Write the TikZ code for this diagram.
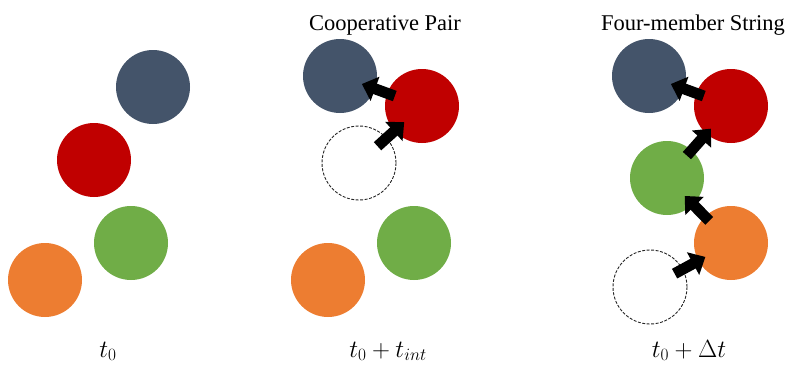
\documentclass[tikz,border=0pt]{standalone}
\usepackage{fontspec}
\setmainfont{Liberation Serif}
\usetikzlibrary{arrows.meta,calc}
\definecolor{cblue}{HTML}{44546A}
\definecolor{cred}{HTML}{C00000}
\definecolor{cgreen}{HTML}{70AD47}
\definecolor{corange}{HTML}{ED7D31}
\begin{document}
\begin{tikzpicture}[x=1pt,y=-1pt,
  ball/.style={circle,minimum size=74pt,inner sep=0pt,fill=#1},
  ghost/.style={circle,minimum size=74pt,inner sep=0pt,draw=black!85,dash pattern=on 3pt off 1.5pt,line width=0.9pt},
  push/.style={line width=11pt,-{Triangle[width=25pt,length=14pt]}},
  ttl/.style={font=\fontsize{22.5}{26}\selectfont,anchor=base},
  tlabel/.style={font=\fontsize{24}{28}\selectfont,anchor=base}]
\path[use as bounding box] (0,0) rectangle (790,368);
% panel 1
\node[ball=cblue] (b1) at (153,87) {};
\node[ball=cred] (r1) at (94,160) {};
\node[ball=cgreen] (g1) at (131,243) {};
\node[ball=corange] (o1) at (45,280) {};
\node[tlabel] (l1) at (108,357) {$t_0$};
% panel 2
\node[ttl] (h2) at (385,30) {Cooperative Pair};
\node[ball=cblue] (b2) at (340,76) {};
\node[ball=cred] (r2) at (422,106) {};
\node[ghost] (d2) at (359,163) {};
\node[ball=cgreen] (g2) at (414,243) {};
\node[ball=corange] (o2) at (328,280) {};
\draw[push] ($(r2)!29pt!(b2)$) -- ($(r2)!64pt!(b2)$);
\draw[push] ($(d2)!25pt!(r2)$) -- ($(d2)!61pt!(r2)$);
\node[tlabel] (l2) at (388,357) {$t_0+t_{int}$};
% panel 3
\node[ttl] (h3) at (693,30) {Four-member String};
\node[ball=cblue] (b3) at (649,76) {};
\node[ball=cred] (r3) at (731,106) {};
\node[ball=cgreen] (g3) at (667,178) {};
\node[ball=corange] (o3) at (731,243) {};
\node[ghost] (d3) at (650,287) {};
\draw[push] ($(r3)!29pt!(b3)$) -- ($(r3)!64pt!(b3)$);
\draw[push] ($(g3)!30pt!(r3)$) -- ($(g3)!66pt!(r3)$);
\draw[push] ($(o3)!31pt!(g3)$) -- ($(o3)!66pt!(g3)$);
\draw[push] ($(d3)!28pt!(o3)$) -- ($(d3)!63pt!(o3)$);
\node[tlabel] (l3) at (689,357) {$t_0+\Delta t$};
\end{tikzpicture}
\end{document}
